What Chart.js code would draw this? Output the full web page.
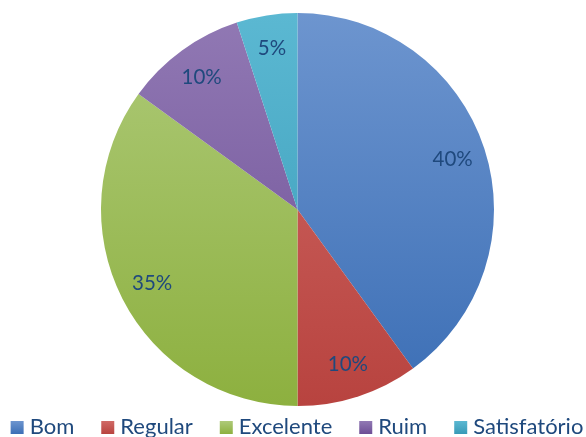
<!DOCTYPE html>
<html><head><meta charset="utf-8">
<script src="https://cdn.jsdelivr.net/npm/chart.js@4/dist/chart.umd.min.js"></script>
<style>html,body{margin:0;padding:0;background:#fff;}#c{display:block;}</style>
</head><body>
<div style="width:586px;height:437px;"><canvas id="c" width="586" height="437"></canvas></div>
<script>
const categories = ['Bom', 'Regular', 'Excelente', 'Ruim', 'Satisfatório'];
const values = [40, 10, 35, 10, 5];
const lightColors = ['#6d95cf', '#d06a66', '#aeca79', '#9179b4', '#5bb8d2'];
const darkColors  = ['#3b6eb5', '#b8433f', '#8db03f', '#6d4e95', '#389ab7'];
const labelColor = '#1f497d';
const FONT = 'Lato, "Liberation Sans", sans-serif';

function grad(ctx) {
  const chart = ctx.chart;
  const a = chart.chartArea;
  const i = ctx.dataIndex;
  if (!a) return lightColors[i];
  const g = chart.ctx.createLinearGradient(0, a.top, 0, a.bottom);
  g.addColorStop(0, lightColors[i]);
  g.addColorStop(1, darkColors[i]);
  return g;
}

const labelPlugin = {
  id: 'pctLabels',
  afterDatasetsDraw(chart) {
    const c = chart.ctx;
    const meta = chart.getDatasetMeta(0);
    const total = values.reduce((s, v) => s + v, 0);
    c.save();
    c.font = '20.5px ' + FONT;
    c.fillStyle = labelColor;
    c.textAlign = 'center';
    c.textBaseline = 'middle';
    meta.data.forEach((arc, i) => {
      const p = arc.getProps(['x', 'y', 'startAngle', 'endAngle', 'outerRadius'], true);
      const mid = (p.startAngle + p.endAngle) / 2;
      const r = p.outerRadius * 0.83;
      const pct = Math.round(values[i] / total * 100) + '%';
      c.fillText(pct, p.x + Math.cos(mid) * r, p.y + Math.sin(mid) * r);
    });
    c.restore();
  }
};

// bottom legend drawn from the chart's labels
const legendPlugin = {
  id: 'bottomLegend',
  afterDraw(chart) {
    const c = chart.ctx;
    const labels = chart.data.labels;
    const box = 13, boxGap = 6, itemGap = 27, baseline = 434, centerX = 297;
    c.save();
    c.font = '22px ' + FONT;
    c.textBaseline = 'alphabetic';
    c.textAlign = 'left';
    const widths = labels.map(t => c.measureText(t).width);
    const total = widths.reduce((s, w) => s + box + boxGap + w, 0) + itemGap * (labels.length - 1);
    let x = centerX - total / 2;
    labels.forEach((t, i) => {
      const g = c.createLinearGradient(0, baseline - 13, 0, baseline);
      g.addColorStop(0, lightColors[i]);
      g.addColorStop(1, darkColors[i]);
      c.fillStyle = g;
      c.fillRect(x, baseline - 13, box, 13);
      x += box + boxGap;
      c.fillStyle = labelColor;
      c.fillText(t, x, baseline);
      x += widths[i] + itemGap;
    });
    c.restore();
  }
};

new Chart(document.getElementById('c'), {
  type: 'pie',
  data: {
    labels: categories,
    datasets: [{ data: values, backgroundColor: grad, borderWidth: 0 }]
  },
  options: {
    responsive: false,
    animation: false,
    layout: { padding: { top: 13, left: 9, right: 0, bottom: 31 } },
    plugins: {
      tooltip: { enabled: false },
      legend: { display: false }
    }
  },
  plugins: [labelPlugin, legendPlugin]
});
</script>
</body></html>
